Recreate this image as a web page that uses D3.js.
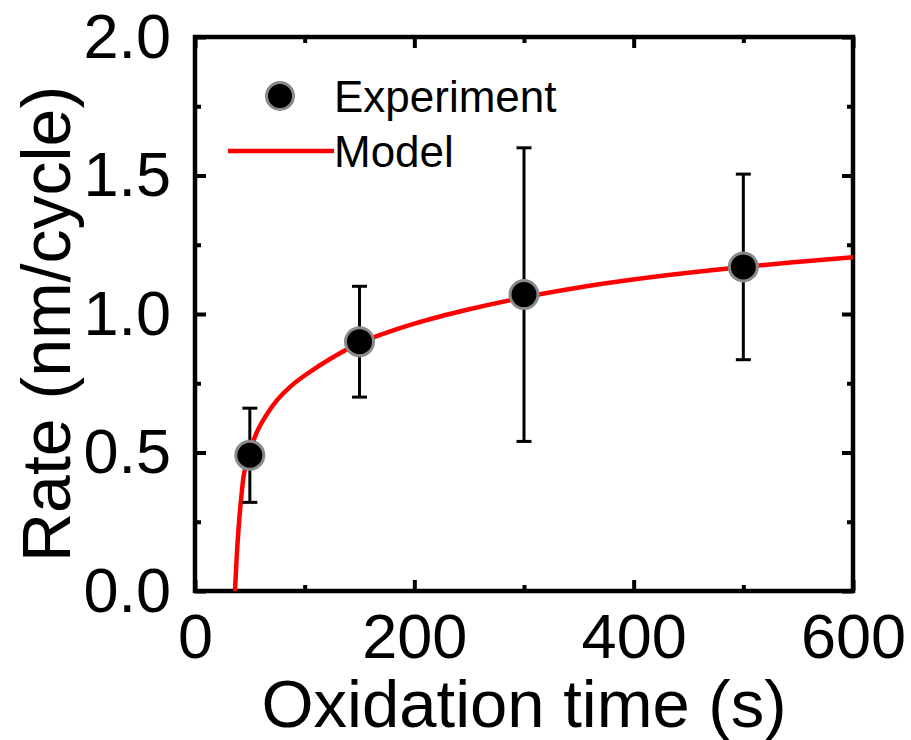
<!DOCTYPE html>
<html>
<head>
<meta charset="utf-8">
<script src="https://cdn.jsdelivr.net/npm/d3@7"></script>
<style>
  body { margin: 0; background: #fff; }
  svg { display: block; font-family: "Liberation Sans", Arial, sans-serif; }
</style>
</head>
<body>
<script>
const width = 911;
const height = 740;

// experiment points with error bars
const expTime = [50, 150, 300, 500];
const expRate = [0.49, 0.90, 1.07, 1.17];
const errLow = [0.32, 0.70, 0.54, 0.835];
const errHigh = [0.66, 1.10, 1.60, 1.505];

// model curve
const modelTime = [36.5, 38, 40, 42, 45, 50, 56, 65, 75, 87, 100, 125, 150, 200, 250, 300, 370, 430, 500, 600];
const modelRate = [0, 0.12, 0.24, 0.33, 0.43, 0.50, 0.57, 0.635, 0.69, 0.738, 0.778, 0.842, 0.895, 0.965, 1.017, 1.06, 1.108, 1.14, 1.17, 1.205];

const xTicks = [0, 200, 400, 600];
const xMinor = [100, 300, 500];
const yTicks = [0, 0.5, 1.0, 1.5, 2.0];
const yMinor = [0.25, 0.75, 1.25, 1.75];

const margin = { left: 195, right: 58, top: 37, bottom: 149 };

const x = d3.scaleLinear().domain([0, 600]).range([margin.left, width - margin.right]);
const y = d3.scaleLinear().domain([0, 2]).range([height - margin.bottom, margin.top]);

const svg = d3.select('body').append('svg')
  .attr('width', width)
  .attr('height', height);

// ticks on all four sides, pointing inward
function addTicks(sel, axis) {
  sel.call(axis)
    .call(g => g.select('.domain').remove())
    .call(g => g.selectAll('line').attr('stroke', '#000').attr('stroke-width', 4));
}

const major = 11, minor = 6;

const bottomG = svg.append('g').attr('transform', `translate(0,${y(0)})`);
addTicks(bottomG, d3.axisBottom(x).tickValues(xTicks).tickSize(-major).tickPadding(22).tickFormat(d3.format('d')));
bottomG.selectAll('text').attr('font-size', 63).attr('fill', '#000').attr('dy', '0.71em');
addTicks(svg.append('g').attr('transform', `translate(0,${y(0)})`),
  d3.axisBottom(x).tickValues(xMinor).tickSize(-minor).tickFormat(''));

addTicks(svg.append('g').attr('transform', `translate(0,${y(2)})`),
  d3.axisTop(x).tickValues(xTicks).tickSize(-major).tickFormat(''));
addTicks(svg.append('g').attr('transform', `translate(0,${y(2)})`),
  d3.axisTop(x).tickValues(xMinor).tickSize(-minor).tickFormat(''));

const leftG = svg.append('g').attr('transform', `translate(${x(0)},0)`);
addTicks(leftG, d3.axisLeft(y).tickValues(yTicks).tickSize(-major).tickPadding(24).tickFormat(d3.format('.1f')));
leftG.selectAll('text').attr('font-size', 63).attr('fill', '#000');
addTicks(svg.append('g').attr('transform', `translate(${x(0)},0)`),
  d3.axisLeft(y).tickValues(yMinor).tickSize(-minor).tickFormat(''));

addTicks(svg.append('g').attr('transform', `translate(${x(600)},0)`),
  d3.axisRight(y).tickValues(yTicks).tickSize(-major).tickFormat(''));
addTicks(svg.append('g').attr('transform', `translate(${x(600)},0)`),
  d3.axisRight(y).tickValues(yMinor).tickSize(-minor).tickFormat(''));

// frame
svg.append('rect')
  .attr('x', x(0)).attr('y', y(2))
  .attr('width', x(600) - x(0)).attr('height', y(0) - y(2))
  .attr('fill', 'none').attr('stroke', '#000').attr('stroke-width', 4.5);

// model line
const line = d3.line()
  .x((d, i) => x(modelTime[i]))
  .y(d => y(d))
  .curve(d3.curveCatmullRom.alpha(0.5));

svg.append('path')
  .attr('d', line(modelRate))
  .attr('fill', 'none')
  .attr('stroke', '#ff0000')
  .attr('stroke-width', 4.5);

// error bars
const errG = svg.append('g').attr('stroke', '#000').attr('stroke-width', 3);
expTime.forEach((t, i) => {
  errG.append('line')
    .attr('x1', x(t)).attr('x2', x(t))
    .attr('y1', y(errLow[i])).attr('y2', y(errHigh[i]));
  [errLow[i], errHigh[i]].forEach(v => {
    errG.append('line')
      .attr('x1', x(t) - 7.5).attr('x2', x(t) + 7.5)
      .attr('y1', y(v)).attr('y2', y(v));
  });
});

// points
svg.append('g')
  .selectAll('circle')
  .data(expRate)
  .join('circle')
    .attr('cx', (d, i) => x(expTime[i]))
    .attr('cy', d => y(d))
    .attr('r', 14)
    .attr('fill', '#000')
    .attr('stroke', '#8a8a8a')
    .attr('stroke-width', 3);

// legend
svg.append('circle')
  .attr('cx', 280).attr('cy', 96).attr('r', 13.5)
  .attr('fill', '#000').attr('stroke', '#8a8a8a').attr('stroke-width', 3);
svg.append('text')
  .attr('x', 334).attr('y', 112)
  .attr('font-size', 44)
  .text('Experiment');
svg.append('line')
  .attr('x1', 228).attr('x2', 334)
  .attr('y1', 151).attr('y2', 151)
  .attr('stroke', '#ff0000').attr('stroke-width', 4.5);
svg.append('text')
  .attr('x', 334).attr('y', 167)
  .attr('font-size', 44)
  .text('Model');

// axis titles
svg.append('text')
  .attr('x', (x(0) + x(600)) / 2)
  .attr('y', 727)
  .attr('text-anchor', 'middle')
  .attr('font-size', 67)
  .text('Oxidation time (s)');

svg.append('text')
  .attr('transform', `translate(70,${(y(0) + y(2)) / 2 + 10}) rotate(-90)`)
  .attr('text-anchor', 'middle')
  .attr('font-size', 68)
  .text('Rate (nm/cycle)');
</script>
</body>
</html>
